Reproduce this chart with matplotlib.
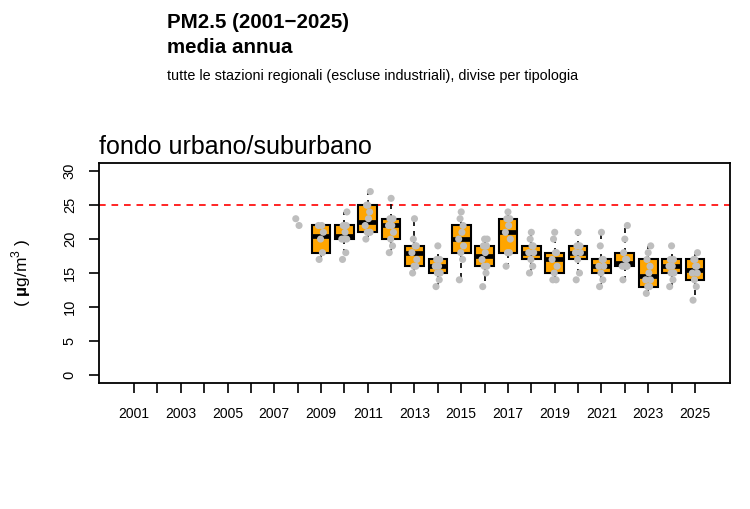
import matplotlib
matplotlib.use('Agg')
import matplotlib.pyplot as plt
import numpy as np

plt.rcParams['font.family'] = ['Liberation Sans', 'DejaVu Sans']
plt.rcParams['mathtext.fontset'] = 'custom'
plt.rcParams['mathtext.rm'] = 'Liberation Sans'
plt.rcParams['mathtext.bf'] = 'Liberation Sans:bold'

#==============================================================================
# data: annual means per station (ug/m3)
#==============================================================================
y2008 = [23, 22]
y2009 = [17, 18, 20, 21, 22, 22]
y2010 = [17, 18, 20, 20, 20, 21, 22, 22, 22, 24]
y2011 = [20, 21, 21, 21, 22, 23, 24, 25, 25, 27]
y2012 = [18, 19, 20, 21, 22, 22, 23, 23, 26]
y2013 = [15, 16, 16, 17, 18, 19, 19, 20, 23]
y2014 = [13, 14, 15, 15, 16, 16, 17, 17, 19]
y2015 = [14, 17, 18, 19, 20, 21, 22, 23, 24]
y2016 = [13, 15, 16, 16, 17, 18, 19, 19, 20, 20]
y2017 = [16, 18, 18, 20, 21, 22, 23, 23, 24]
y2018 = [15, 16, 17, 18, 18, 19, 19, 20, 21]
y2019 = [14, 14, 15, 16, 17, 18, 18, 20, 21]
y2020 = [14, 15, 17, 18, 18, 19, 19, 19, 21]
y2021 = [13, 14, 15, 16, 16, 17, 17, 19, 21]
y2022 = [14, 16, 16, 16, 16, 17, 17, 18, 20, 22]
y2023 = [12, 13, 13, 14, 14, 15, 16, 17, 18, 19]
y2024 = [13, 14, 15, 15, 16, 16, 17, 17, 19]
y2025 = [11, 13, 14, 15, 15, 16, 16, 17, 17, 18]

data_years = list(range(2008, 2026))
data_values = [y2008, y2009, y2010, y2011, y2012, y2013, y2014, y2015, y2016,
               y2017, y2018, y2019, y2020, y2021, y2022, y2023, y2024, y2025]

all_years = list(range(2001, 2026))
label_years = list(range(2001, 2026, 2))
limit_value = 25

# small fixed horizontal jitter for the station points
jitter = np.array([-0.08, 0.06, -0.02, 0.10, -0.11, 0.03, 0.08, -0.05, 0.0, 0.11, -0.09, 0.05])


def fivenum(v):
    #Tukey hinges, same as R fivenum
    x = np.sort(np.asarray(v, dtype=float))
    n = len(x)
    n4 = np.floor((n + 3) / 2) / 2
    d = np.array([1, n4, (n + 1) / 2, n + 1 - n4, n]) - 1
    return 0.5 * (x[np.floor(d).astype(int)] + x[np.ceil(d).astype(int)])


stats = []
positions = []
for yr, vals in zip(data_years, data_values):
    if len(vals) < 5:
        continue
    lo, q1, med, q3, hi = fivenum(vals)
    stats.append(dict(med=med, q1=q1, q3=q3, whislo=lo, whishi=hi, fliers=[]))
    positions.append(yr)

fig = plt.figure(figsize=(7.5, 5.09), dpi=100)
ax = fig.add_axes([0.132, 0.2475, 0.8413, 0.4322])

ax.axhline(limit_value, color='red', linestyle=(0, (4, 3.5)), linewidth=1.2, zorder=1)

ax.bxp(stats, positions=positions, widths=0.8, patch_artist=True,
       showfliers=False, showcaps=False,
       boxprops=dict(facecolor='#FFA500', edgecolor='black', linewidth=1.5),
       medianprops=dict(color='black', linewidth=3.4, solid_capstyle='butt'),
       whiskerprops=dict(color='black', linestyle=(0, (3, 3)), linewidth=1.2),
       zorder=2)

for yr, vals in zip(data_years, data_values):
    xs = yr + jitter[np.arange(len(vals)) % len(jitter)]
    ax.scatter(xs, vals, s=26, color='#BEBEBE', edgecolors='none', zorder=3)

ax.set_xlim(1999.5, 2026.5)
ax.set_ylim(-1.2, 31.2)
ax.set_xticks(all_years)
ax.set_xticklabels([str(y) if y in label_years else '' for y in all_years])
ax.set_yticks(range(0, 31, 5))
ax.tick_params(axis='x', direction='out', length=7, width=1.2, pad=10, labelsize=10)
ax.tick_params(axis='y', direction='out', length=7, width=1.2, pad=9, labelsize=10.5,
               labelrotation=90)
for lab in ax.get_yticklabels():
    lab.set_va('center')
for sp in ax.spines.values():
    sp.set_linewidth(1.3)

ax.set_ylabel('( $\\mathbf{\u00b5}$g/m$^3$ )', fontsize=12.5)
ax.yaxis.set_label_coords(-0.105, 0.5)

ax.annotate('fondo urbano/suburbano', xy=(0, 1), xycoords='axes fraction',
            xytext=(0, 3), textcoords='offset points', ha='left', va='bottom',
            fontsize=18)

fig.text(0.2227, 0.955, 'PM2.5 (2001\u22122025)', fontsize=14.8, fontweight='bold',
         ha='left', va='center')
fig.text(0.2227, 0.906, 'media annua', fontsize=14.8, fontweight='bold',
         ha='left', va='center')
fig.text(0.2227, 0.850,
         'tutte le stazioni regionali (escluse industriali), divise per tipologia',
         fontsize=10.4, ha='left', va='center')

plt.savefig('out.png', dpi=100)
